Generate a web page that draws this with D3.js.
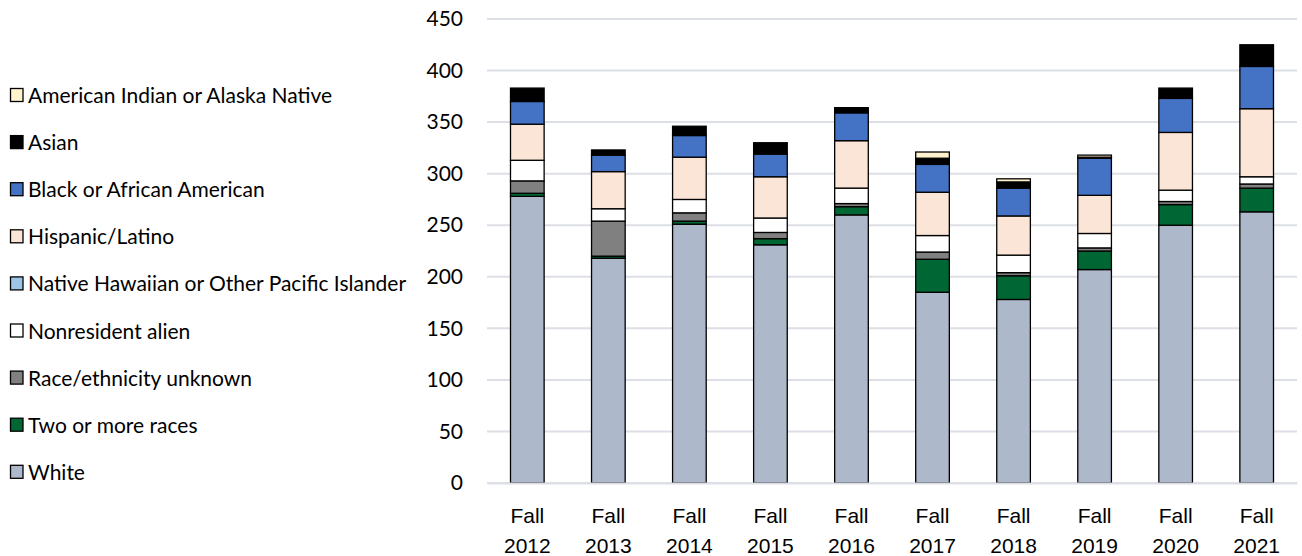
<!DOCTYPE html>
<html>
<head>
<meta charset="utf-8">
<script src="https://cdn.jsdelivr.net/npm/d3@7"></script>
<style>
  body { margin: 0; background: #fff; }
  svg { display: block; font-family: Lato, "Open Sans", sans-serif; }
</style>
</head>
<body>
<div id="chart"></div>
<script>
const years = ["Fall 2012", "Fall 2013", "Fall 2014", "Fall 2015", "Fall 2016", "Fall 2017", "Fall 2018", "Fall 2019", "Fall 2020", "Fall 2021"];
const white = [278, 218, 251, 231, 260, 185, 178, 207, 250, 263];
const twoOrMore = [3, 2, 3, 6, 8, 32, 23, 18, 20, 23];
const unknown = [12, 34, 8, 6, 3, 7, 3, 3, 3, 4];
const nonresident = [20, 12, 13, 14, 15, 16, 17, 14, 11, 7];
const hawaiian = [0, 0, 0, 0, 0, 0, 0, 0, 0, 0];
const hispanic = [35, 36, 41, 40, 46, 42, 38, 37, 56, 66];
const black = [22, 16, 21, 22, 27, 27, 27, 36, 33, 41];
const asian = [13, 5, 9, 11, 5, 6, 6, 1, 10, 21];
const americanIndian = [0, 0, 0, 0, 0, 6, 3, 2, 0, 0];
const yTicks = [0, 50, 100, 150, 200, 250, 300, 350, 400, 450];

// stack order bottom -> top
const series = [
  { name: "White", values: white, color: "#adb9ca" },
  { name: "Two or more races", values: twoOrMore, color: "#006633" },
  { name: "Race/ethnicity unknown", values: unknown, color: "#808080" },
  { name: "Nonresident alien", values: nonresident, color: "#ffffff" },
  { name: "Native Hawaiian or Other Pacific Islander", values: hawaiian, color: "#9dc3e6" },
  { name: "Hispanic/Latino", values: hispanic, color: "#fbe5d6" },
  { name: "Black or African American", values: black, color: "#4472c4" },
  { name: "Asian", values: asian, color: "#000000" },
  { name: "American Indian or Alaska Native", values: americanIndian, color: "#fff2cc" },
];

const W = 1302, H = 556;
const pad = { t: 19, b: 73, s: 487, e: 5 };
const fontSize = 21;

const rows = years.map((y, i) => {
  const r = { year: y };
  series.forEach((s) => (r[s.name] = s.values[i]));
  return r;
});
const stacked = d3.stack().keys(series.map((s) => s.name))(rows);

const svg = d3.select("#chart").append("svg").attr("width", W).attr("height", H);

const x = d3.scaleBand().domain(years).range([pad.s, W - pad.e]).paddingInner(0.585).paddingOuter(0.29);
const y = d3.scaleLinear().domain([0, 450]).range([H - pad.b, pad.t]);

// grid
svg.append("g")
  .selectAll("line")
  .data(yTicks)
  .enter()
  .append("line")
  .attr("x1", pad.s)
  .attr("x2", W - pad.e)
  .attr("y1", (d) => y(d))
  .attr("y2", (d) => y(d))
  .attr("stroke", "#dcdfe6")
  .attr("stroke-width", 2);

// y axis labels
const yAxis = svg.append("g")
  .attr("transform", `translate(${pad.s}, 0)`)
  .call(d3.axisLeft(y).tickValues(yTicks).tickSize(0).tickPadding(24));
yAxis.select(".domain").remove();
yAxis.selectAll("text").attr("font-size", fontSize).attr("fill", "#000").attr("font-family", "Lato, sans-serif");

// bars
const colorOf = {};
series.forEach((s) => (colorOf[s.name] = s.color));
svg.append("g")
  .selectAll("g")
  .data(stacked)
  .enter()
  .append("g")
  .attr("fill", (d) => colorOf[d.key])
  .selectAll("rect")
  .data((d) => d.filter((p) => p[1] - p[0] > 0))
  .enter()
  .append("rect")
  .attr("x", (d) => x(d.data.year))
  .attr("width", x.bandwidth())
  .attr("y", (d) => y(d[1]))
  .attr("height", (d) => y(d[0]) - y(d[1]))
  .attr("stroke", "#000")
  .attr("stroke-width", 1.3);

// x axis labels
const xAxis = svg.append("g")
  .attr("transform", `translate(0, ${H - pad.b})`)
  .call(d3.axisBottom(x).tickSize(0).tickFormat(""));
xAxis.select(".domain").attr("stroke", "#dcdfe6").attr("stroke-width", 2);
xAxis.selectAll(".tick")
  .append("text")
  .attr("fill", "#000")
  .attr("font-size", fontSize)
  .attr("text-anchor", "middle")
  .selectAll("tspan")
  .data((d) => d.split(" "))
  .enter()
  .append("tspan")
  .attr("x", 0)
  .attr("y", (d, i) => 40 + i * 30)
  .text((d) => d);

// legend (reverse of stack order)
const legend = svg.append("g").attr("transform", "translate(10, 95)");
const items = legend.selectAll("g")
  .data(series.slice().reverse())
  .enter()
  .append("g")
  .attr("transform", (d, i) => `translate(0, ${i * 47.1})`);
items.append("rect")
  .attr("x", 0.5)
  .attr("y", -6.5)
  .attr("width", 12.5)
  .attr("height", 13)
  .attr("fill", (d) => d.color)
  .attr("stroke", "#000")
  .attr("stroke-width", 1.3);
items.append("text")
  .attr("x", 18)
  .attr("y", 8)
  .attr("font-size", fontSize)
  .attr("fill", "#000")
  .text((d) => d.name);
</script>
</body>
</html>
